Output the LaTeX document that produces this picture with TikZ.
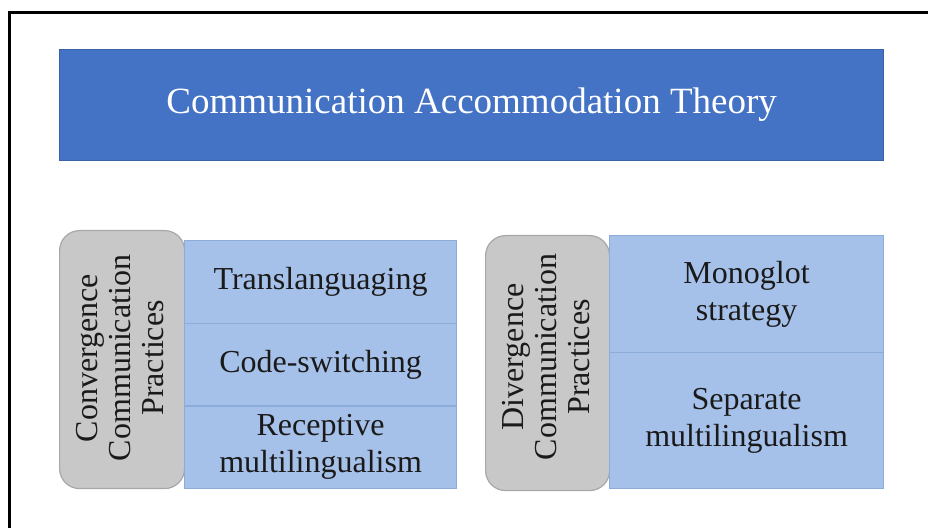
\documentclass[tikz,border=0pt]{standalone}
\usepackage{fontspec}
\setmainfont{Liberation Serif}
\definecolor{titleblue}{HTML}{4472C4}
\definecolor{titleedge}{HTML}{3A62A8}
\definecolor{lightblue}{HTML}{A6C1E9}
\definecolor{lightedge}{HTML}{8CACDA}
\definecolor{grayfill}{HTML}{C8C8C8}
\definecolor{grayedge}{HTML}{A8A8A8}
\definecolor{txt}{HTML}{1A1A1A}
\tikzset{
  titlebox/.style={draw=titleedge, line width=0.6pt, fill=titleblue, text=white,
    anchor=north west, inner sep=0pt, font=\fontsize{18.5}{22}\selectfont},
  itembox/.style={draw=lightedge, line width=0.6pt, fill=lightblue, text=txt,
    anchor=north west, inner sep=0pt, align=center,
    font=\fontsize{16}{18.5}\selectfont},
  sidebox/.style={draw=grayedge, line width=0.6pt, fill=grayfill,
    rounded corners=10pt, anchor=north west, inner sep=0pt},
  sidetext/.style={rotate=90, align=center, text=txt, inner sep=0pt,
    font=\fontsize{16}{16.5}\selectfont},
  frameline/.style={draw=black, line width=1.5pt}
}
\begin{document}
\begin{tikzpicture}[x=0.5pt, y=-0.5pt]
\useasboundingbox (0,0) rectangle (928,528);
% frame (left and top edges)
\coordinate (fbl) at (9,529);
\coordinate (ftl) at (9,13);
\coordinate (ftr) at (929,13);
\draw[frameline] (fbl) -- (ftl) -- (ftr);
% title
\node[titlebox, minimum width=412pt, minimum height=55.5pt] (title) at (59,49)
  {Communication Accommodation Theory};
% left group
\node[sidebox, minimum width=62.5pt, minimum height=129pt] (cside) at (59,230) {};
\node[sidetext] (ctext) at (120,358) {Convergence\\Communication\\Practices};
\node[itembox, minimum width=136pt, minimum height=41.33pt] (trans) at (184,240)
  {Translanguaging};
\node[itembox, minimum width=136pt, minimum height=41.33pt] (code) at (184,322.67)
  {Code-switching};
\node[itembox, minimum width=136pt, minimum height=41.33pt] (recep) at (184,405.33)
  {Receptive\\multilingualism};
% right group
\node[sidebox, minimum width=62pt, minimum height=127.5pt] (dside) at (485,235) {};
\node[sidetext] (dtext) at (546,357) {Divergence\\Communication\\Practices};
\node[itembox, minimum width=137pt, minimum height=58.5pt] (mono) at (609,235)
  {Monoglot\\strategy};
\node[itembox, minimum width=137pt, minimum height=68pt] (sep) at (609,352)
  {Separate\\multilingualism};
\end{tikzpicture}
\end{document}
